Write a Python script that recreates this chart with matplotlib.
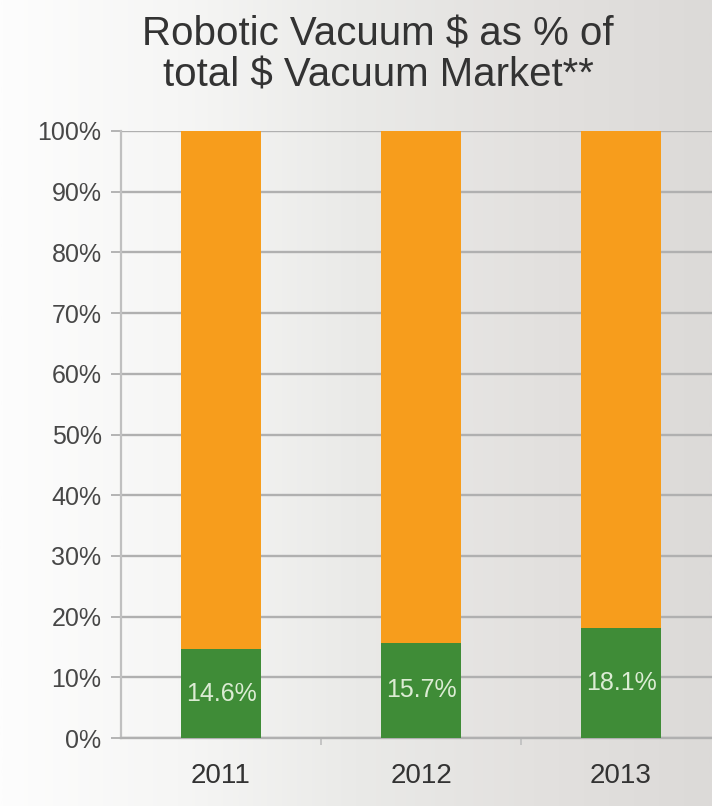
import numpy as np
import matplotlib
matplotlib.use("Agg")
import matplotlib.pyplot as plt
from matplotlib.colors import LinearSegmentedColormap

plt.rcParams['font.family'] = ['Liberation Sans', 'DejaVu Sans']

# Data
years = ["2011", "2012", "2013"]
robotic_share = [14.6, 15.7, 18.1]          # % of total vacuum market $
other_share = [100 - v for v in robotic_share]
y_ticks = [0, 10, 20, 30, 40, 50, 60, 70, 80, 90, 100]
y_tick_labels = [f"{t}%" for t in y_ticks]
title = "Robotic Vacuum $ as % of\ntotal $ Vacuum Market**"

W, H, DPI = 712, 806, 100
fig = plt.figure(figsize=(W / DPI, H / DPI), dpi=DPI)

# Soft left-to-right background shading
bg = fig.add_axes([0, 0, 1, 1], zorder=-10)
bg_cmap = LinearSegmentedColormap.from_list(
    "bg", ["#fdfdfd", "#f6f6f5", "#eaeae8", "#e3e1df", "#dcdad8"])
grad = np.linspace(0, 1, 400)[None, :]
bg.imshow(grad, aspect="auto", cmap=bg_cmap, extent=[0, 1, 0, 1])
bg.set_xlim(0, 1)
bg.set_ylim(0, 1)
bg.axis("off")

ax = fig.add_axes([121 / W, 68 / H, 600 / W, 607 / H])
ax.patch.set_alpha(0)

x = np.arange(len(years))
green = "#3f8c37"
orange = "#f79d1c"
ax.bar(x, robotic_share, width=0.4, color=green, zorder=3)
ax.bar(x, other_share, width=0.4, bottom=robotic_share, color=orange, zorder=3)

for xi, v in zip(x, robotic_share):
    ax.text(xi, v / 2, f"{v:.1f}%", ha="center", va="center",
            fontsize=18, color="#dcecd4", zorder=4)

ax.set_xlim(-0.5, len(years) - 0.5)
ax.set_ylim(0, 100)
ax.set_yticks(y_ticks)
ax.set_yticklabels(y_tick_labels, fontsize=18, color="#474747")
ax.set_xticks(x)
ax.set_xticklabels(years, fontsize=20, color="#333333")
ax.set_xticks([0.5, 1.5], minor=True)

ax.yaxis.grid(True, color="#b0b0b0", linewidth=1.7, zorder=1)
ax.set_axisbelow(True)
ax.tick_params(axis="y", length=7, width=1.4, color="#b4b4b4", pad=7)
ax.tick_params(axis="x", which="major", length=0, pad=18)
ax.tick_params(axis="x", which="minor", length=5, width=1.4, color="#c4c4c4")

for side in ("top", "right"):
    ax.spines[side].set_visible(False)
ax.spines["left"].set_color("#c0c0c0")
ax.spines["left"].set_linewidth(1.6)
ax.spines["bottom"].set_color("#b0b0b0")
ax.spines["bottom"].set_linewidth(1.7)

fig.text(378 / W, 1 - 55 / H, title, ha="center", va="center",
         fontsize=29, color="#333333", linespacing=1.1)

fig.savefig("out.png", dpi=DPI)
